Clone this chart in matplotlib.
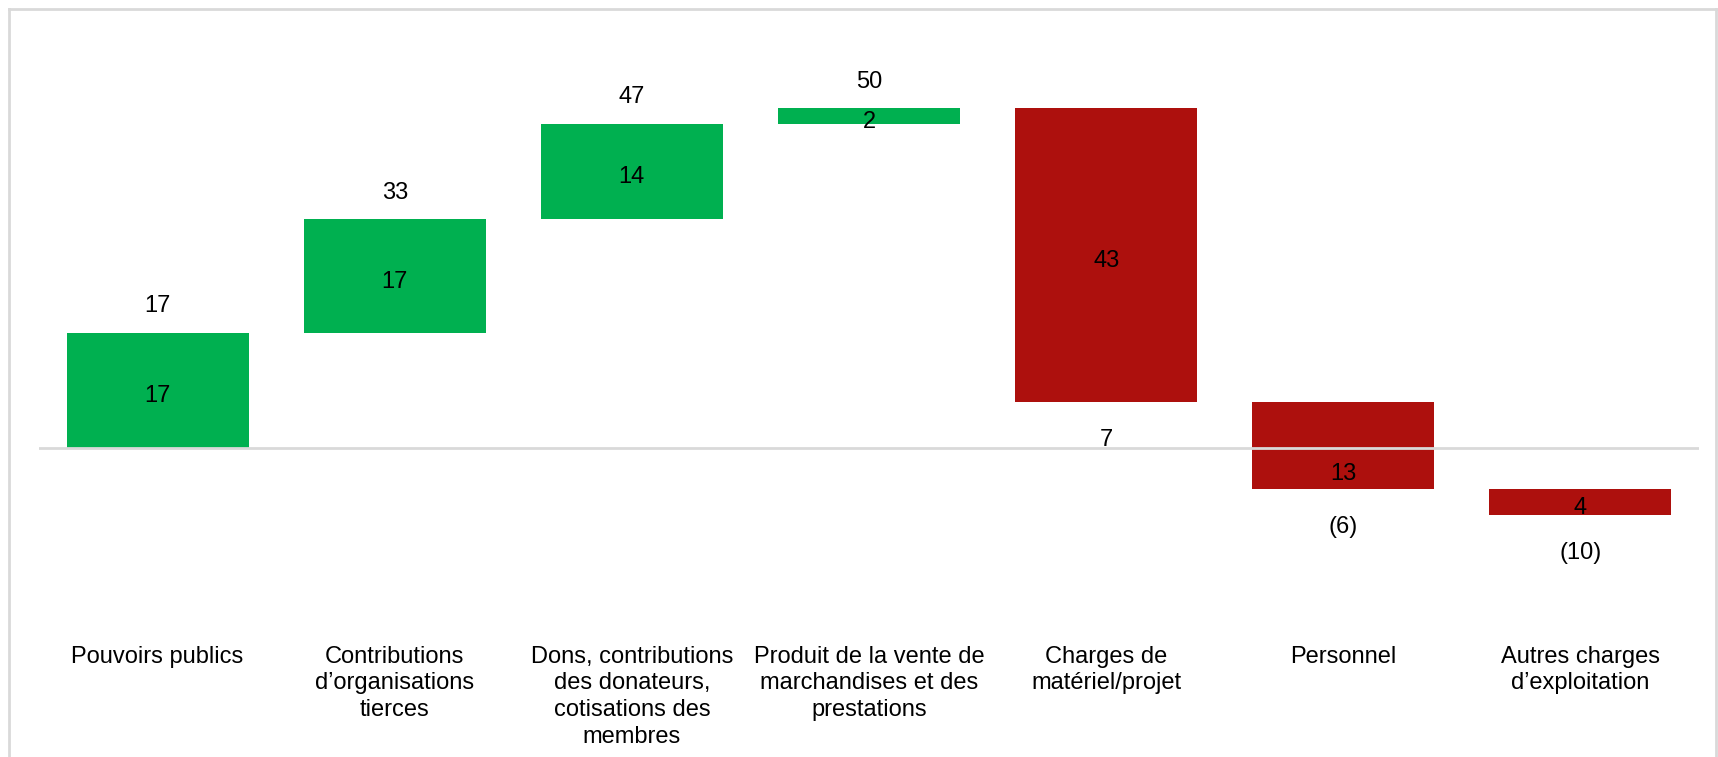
import matplotlib
matplotlib.use("Agg")
from matplotlib import pyplot as plt
from matplotlib.lines import Line2D
import numpy as np

categories = ["Pouvoirs publics",
              "Contributions\nd’organisations\ntierces",
              "Dons, contributions\ndes donateurs,\ncotisations des\nmembres",
              "Produit de la vente de\nmarchandises et des\nprestations",
              "Charges de\nmatériel/projet",
              "Personnel",
              "Autres charges\nd’exploitation"]
changes = [16.8, 16.6, 13.9, 2.3, -42.9, -12.7, -3.8]

green = "#00B050"
red = "#AD100D"

plt.rcParams["font.family"] = ["Liberation Sans", "DejaVu Sans"]

W, H = 1718, 757
fig = plt.figure(figsize=(W / 100, H / 100), dpi=100)

# axes placed in pixels: zero line at y=448, 6.85 px per unit
top_px, bot_px = 9, 600
left_px, right_px = 39, 1699
ax = fig.add_axes([left_px / W, 1 - bot_px / H, (right_px - left_px) / W, (bot_px - top_px) / H])
ppu = 6.85
ax.set_ylim(-(bot_px - 448) / ppu, (448 - top_px) / ppu)
ax.set_xlim(-0.5, len(categories) - 0.5)

x = np.arange(len(categories))
ends = np.cumsum(changes)
starts = ends - np.array(changes)
colors = [green if c > 0 else red for c in changes]

ax.bar(x, changes, bottom=starts, width=0.767, color=colors, zorder=2)
ax.axhline(0, color="#D9D9D9", lw=2, zorder=3)

def fmt(v):
    r = int(round(v))
    return f"({abs(r)})" if r < 0 else str(r)

fs = 17
off = 32 / ppu
dy = -5.5 / ppu  # visual centring of digits
for xi, s, e, c in zip(x, starts, ends, changes):
    lo, hi = min(s, e), max(s, e)
    if lo < 0 < hi:
        ymid = lo / 2  # label sits on the part below zero
    else:
        ymid = (lo + hi) / 2
    ax.text(xi, ymid + dy, str(int(round(abs(c)))), ha="center", va="center",
            fontsize=fs, zorder=4)
    if c > 0:
        ax.text(xi, e + off + dy, fmt(e), ha="center", va="center", fontsize=fs)
    else:
        ax.text(xi, e - off + dy, fmt(e), ha="center", va="center", fontsize=fs)

ax.set_xticks(x)
ax.set_xticklabels(categories, fontsize=fs, linespacing=1.27)
ax.tick_params(axis="x", length=0, pad=33)
ax.set_yticks([])
for s in ax.spines.values():
    s.set_visible(False)

# light grey frame around the chart
fc = "#D9D9D9"
fig.add_artist(Line2D([9 / W, 9 / W], [0, 1 - 9 / H], color=fc, lw=2, transform=fig.transFigure))
fig.add_artist(Line2D([9 / W, 1716 / W], [1 - 9 / H, 1 - 9 / H], color=fc, lw=2, transform=fig.transFigure))
fig.add_artist(Line2D([1716 / W, 1716 / W], [0, 1 - 9 / H], color=fc, lw=2, transform=fig.transFigure))

fig.savefig("out.png", dpi=100)
